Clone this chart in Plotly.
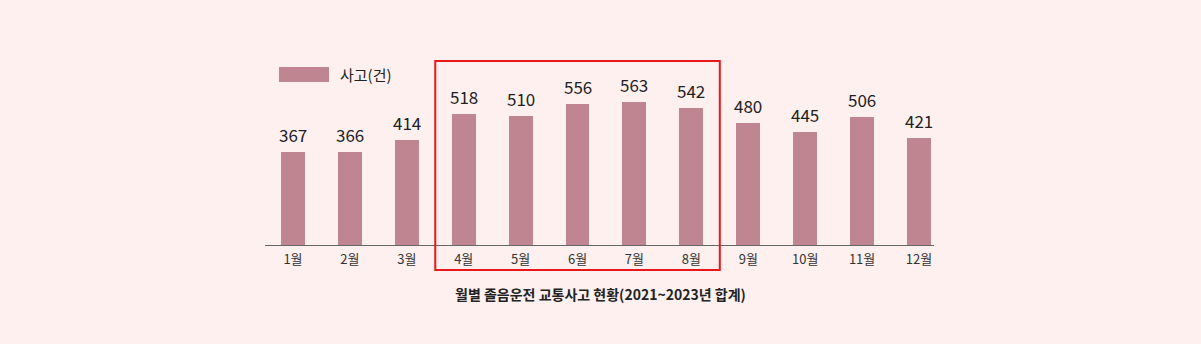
import plotly.graph_objects as go

months = ["1월", "2월", "3월", "4월", "5월", "6월", "7월", "8월", "9월", "10월", "11월", "12월"]
accidents = [367, 366, 414, 518, 510, 556, 563, 542, 480, 445, 506, 421]
series_name = "사고(건)"
title_text = "월별 졸음운전 교통사고 현황(2021~2023년 합계)"

BAR = "#bf8590"
BG = "#fff0f0"
FONT = "Noto Sans CJK KR"

xs = list(range(len(months)))

fig = go.Figure()
fig.add_trace(go.Bar(
    x=xs,
    y=accidents,
    name=series_name,
    marker=dict(color=BAR, line=dict(width=0)),
    width=0.42,
    showlegend=False,
    hoverinfo="x+y",
))

# value labels above each bar
value_labels = [
    dict(x=x, y=v, xref="x", yref="y", text=str(v), showarrow=False,
         xanchor="center", yanchor="bottom", yshift=3,
         font=dict(family=FONT, size=17, color="#222222"))
    for x, v in zip(xs, accidents)
]

fig.update_layout(
    width=1201, height=344,
    margin=dict(l=265, r=267, t=60, b=99),
    paper_bgcolor=BG, plot_bgcolor=BG,
    font=dict(family=FONT, color="#333333"),
    bargap=0,
    xaxis=dict(
        range=[-0.492, 11.264],
        tickmode="array",
        tickvals=xs,
        ticktext=months,
        tickfont=dict(family=FONT, size=13, color="#333333"),
        ticklabelstandoff=2,
        showgrid=False, zeroline=False,
        showline=True, linecolor="#666666", linewidth=1,
        ticks="",
    ),
    yaxis=dict(
        range=[0, 730],
        visible=False,
        showgrid=False, zeroline=False,
    ),
    shapes=[
        # highlighted months frame (4월–8월)
        dict(type="rect", xref="x", yref="paper",
             x0=2.5, x1=7.5, y0=-0.135, y1=0.995,
             line=dict(color="#e8171c", width=2), fillcolor="rgba(0,0,0,0)"),
        # legend swatch
        dict(type="rect", xref="paper", yref="paper",
             x0=(279 - 265) / 669, x1=(329 - 265) / 669,
             y0=(245 - 82) / 185, y1=(245 - 67) / 185,
             line=dict(width=0), fillcolor=BAR),
    ],
    annotations=value_labels + [
        dict(text=series_name, xref="paper", yref="paper",
             x=(338 - 265) / 669, y=(245 - 74.5) / 185,
             xanchor="left", yanchor="middle", showarrow=False,
             font=dict(family=FONT, size=15, color="#222222")),
        dict(text="<b>" + title_text + "</b>", xref="paper", yref="paper",
             x=(600 - 265) / 669, y=(245 - 294) / 185,
             xanchor="center", yanchor="middle", showarrow=False,
             font=dict(family=FONT, size=14, color="#222222")),
    ],
)

fig.write_html("out.html")
